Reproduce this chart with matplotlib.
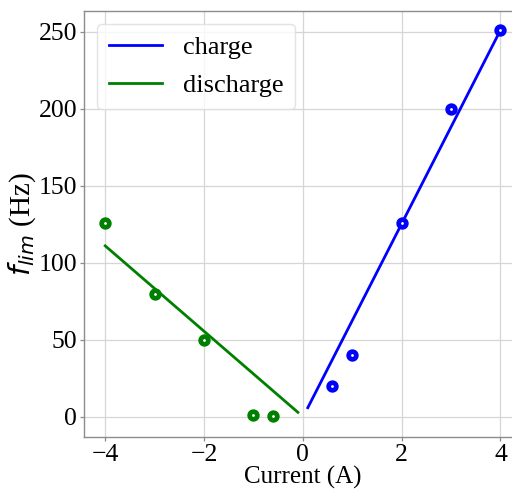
import matplotlib
matplotlib.use("Agg")
import matplotlib.pyplot as plt

# measured cut-off frequency vs current
charge_current = [0.6, 1.0, 2.0, 3.0, 4.0]
charge_flim = [20, 40, 126, 200, 251]
discharge_current = [-4.0, -3.0, -2.0, -1.0, -0.6]
discharge_flim = [126, 80, 50, 1.5, 0.8]

# linear fit lines (end points)
charge_fit_x = [0.1, 4.0]
charge_fit_y = [6, 251]
discharge_fit_x = [-4.0, -0.1]
discharge_fit_y = [111, 3]

xticks = [-4, -2, 0, 2, 4]
yticks = [0, 50, 100, 150, 200, 250]

plt.rcParams['font.family'] = ['Liberation Serif', 'DejaVu Sans']
plt.rcParams['mathtext.fontset'] = 'dejavusans'

fig = plt.figure(figsize=(5.12, 4.91), dpi=100)
ax = fig.add_axes([0.164, 0.110, 0.855, 0.868])

ax.plot(charge_fit_x, charge_fit_y, color='blue', lw=2.0, label='charge')
ax.plot(discharge_fit_x, discharge_fit_y, color='green', lw=2.0, label='discharge')
ax.plot(charge_current, charge_flim, 'o', color='blue', mfc='white', mec='blue',
        ms=5.5, mew=3.4, linestyle='none')
ax.plot(discharge_current, discharge_flim, 'o', color='green', mfc='white', mec='green',
        ms=5.5, mew=3.4, linestyle='none')

ax.set_xlim(-4.43, 4.43)
ax.set_ylim(-13, 263.5)
ax.set_xticks(xticks)
ax.set_yticks(yticks)
ax.grid(True, color='#d6d6d6', lw=0.9)
ax.set_axisbelow(True)
for s in ax.spines.values():
    s.set_color('#8c8c8c')
    s.set_linewidth(1.0)
ax.tick_params(axis='both', labelsize=18.5, colors='#8c8c8c', labelcolor='black',
               length=3, width=0.9, pad=2)

ax.set_xlabel('Current (A)', fontsize=18, labelpad=0)
ax.set_ylabel(r'$f_{lim}$ (Hz)', fontsize=21, labelpad=0)

leg = ax.legend(loc='upper left', fontsize=19, frameon=True, fancybox=True,
                handlelength=2.0, borderpad=0.45, labelspacing=0.55,
                borderaxespad=0, bbox_to_anchor=(0.03, 0.97), handletextpad=0.8)
leg.get_frame().set_edgecolor('#dddddd')

fig.savefig('out.png', dpi=100)
